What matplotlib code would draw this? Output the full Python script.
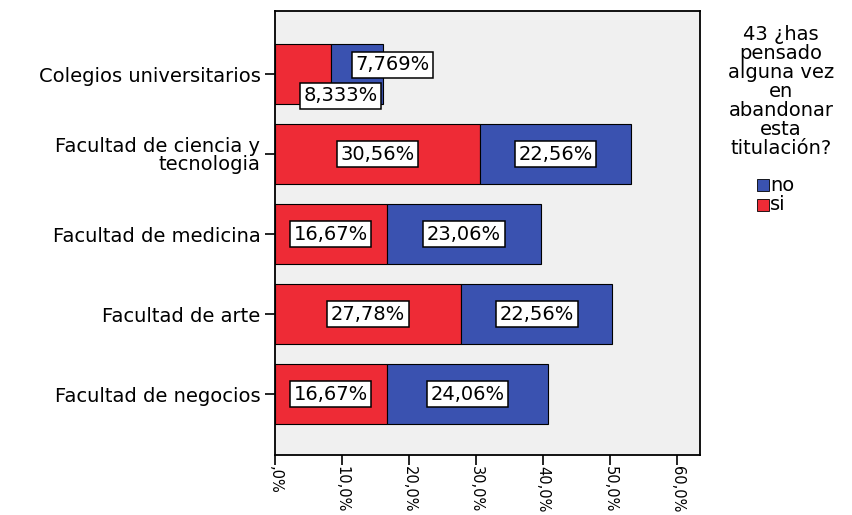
import matplotlib
matplotlib.use("Agg")
import matplotlib.pyplot as plt
from matplotlib.patches import Rectangle
import numpy as np

plt.rcParams['font.family'] = ['DejaVu Sans']

categories = ["Colegios universitarios", "Facultad de ciencia y\ntecnologia",
              "Facultad de medicina", "Facultad de arte", "Facultad de negocios"]
si_vals = [8.333, 30.56, 16.67, 27.78, 16.67]
no_vals = [7.769, 22.56, 23.06, 22.56, 24.06]
si_labels = ["8,333%", "30,56%", "16,67%", "27,78%", "16,67%"]
no_labels = ["7,769%", "22,56%", "23,06%", "22,56%", "24,06%"]
xticks = [0, 10, 20, 30, 40, 50, 60]
xtick_labels = [",0%", "10,0%", "20,0%", "30,0%", "40,0%", "50,0%", "60,0%"]
legend_title = "43 ¿has\npensado\nalguna vez\nen\nabandonar\nesta\ntitulación?"

RED = "#ee2b36"
BLUE = "#3a52b0"

fig = plt.figure(figsize=(8.53, 5.15), dpi=100)
ax = fig.add_axes([275/853, 1-455/515, (700-275)/853, (455-11)/515])
ax.set_facecolor("#f0f0f0")

y = np.arange(len(categories))
ax.barh(y, si_vals, height=0.75, color=RED, edgecolor="black", linewidth=0.8)
ax.barh(y, no_vals, left=si_vals, height=0.75, color=BLUE, edgecolor="black", linewidth=0.8)

ax.set_xlim(0, 63.4)
ax.set_ylim(4.76, -0.79)

box = dict(boxstyle="square,pad=0.18", facecolor="white", edgecolor="black", linewidth=1.1)
fs = 14
for i in range(len(categories)):
    xs = si_vals[i] / 2
    xn = si_vals[i] + no_vals[i] / 2
    ys, yn = i, i
    if i == 0:
        xs, ys = xs + 5.6, i + 0.27
        xn, yn = xn + 5.3, i - 0.12
    ax.text(xs, ys, si_labels[i], ha="center", va="center", fontsize=fs, bbox=box, zorder=5)
    ax.text(xn, yn, no_labels[i], ha="center", va="center", fontsize=fs, bbox=box, zorder=5)

ax.set_yticks(y)
ax.set_yticklabels(categories, fontsize=fs, linespacing=0.9)
ax.set_xticks(xticks)
ax.set_xticklabels(xtick_labels, rotation=270, fontsize=10.5, ha="center", va="top")
ax.tick_params(axis="both", direction="out", length=7, width=1.2, color="black")
ax.tick_params(axis="x", pad=1)
for s in ax.spines.values():
    s.set_linewidth(1.3)

# legend
fig.text(781/853, 1-25/515, legend_title, ha="center", va="top", fontsize=14,
         linespacing=1.0, multialignment="center")
for k, (lab, col) in enumerate([("no", BLUE), ("si", RED)]):
    yc = 185 + k * 20
    fig.patches.append(Rectangle((757/853, 1-(yc+6)/515), 12/853, 12/515,
                                 transform=fig.transFigure, facecolor=col,
                                 edgecolor="black", linewidth=0.6))
    fig.text(770/853, 1-yc/515, lab, ha="left", va="center", fontsize=14)

fig.savefig("out.png", dpi=100)
